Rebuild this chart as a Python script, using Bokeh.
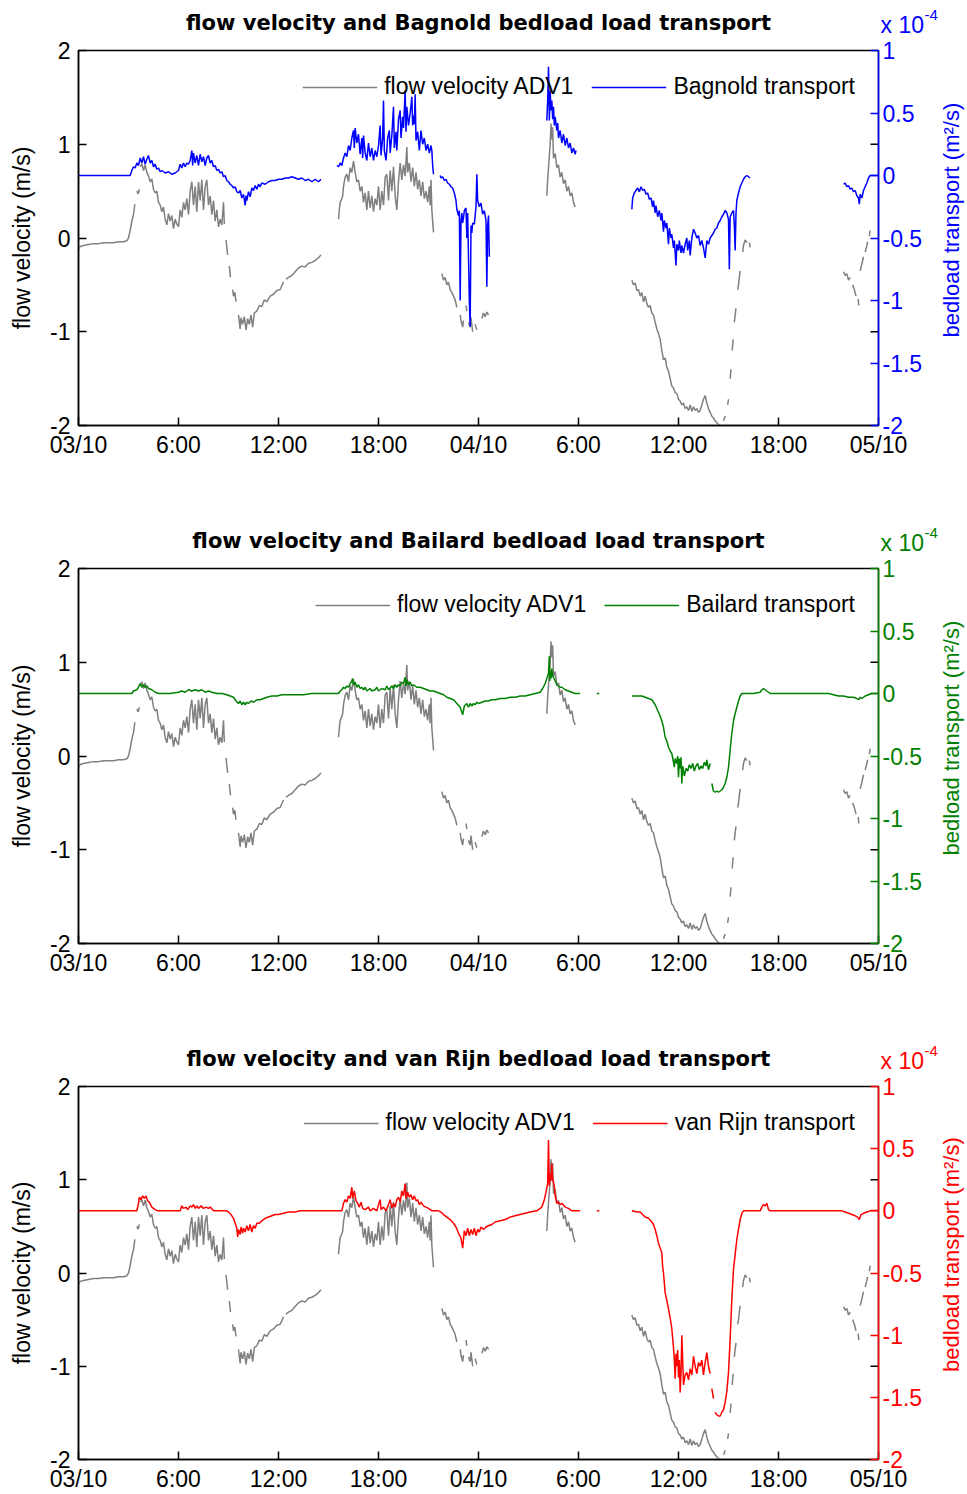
import math
import numpy as np
from bokeh.plotting import figure
from bokeh.models import Range1d, LinearAxis, Legend, LegendItem, FixedTicker, Label
from bokeh.layouts import column, row
from bokeh.embed import file_html
from bokeh.resources import INLINE

# time axis: hours since 03/10 00:00
x_ticks = [0, 6, 12, 18, 24, 30, 36, 42, 48]
x_labels = ["03/10", "6:00", "12:00", "18:00", "04/10", "6:00", "12:00", "18:00", "05/10"]
vel_ticks = [-2, -1, 0, 1, 2]
vel_labels = ["-2", "-1", "0", "1", "2"]
tr_ticks = [-2.0, -1.5, -1.0, -0.5, 0.0, 0.5, 1.0]
tr_labels = ["-2", "-1.5", "-1", "-0.5", "0", "0.5", "1"]

# flow velocity ADV1 (m/s); None = no data
velocity_adv1 = [
 (0.0,-0.12),(0.1,-0.09),(0.3,-0.08),(0.6,-0.07),(0.9,-0.06),(1.2,-0.06),(1.5,-0.05),(1.8,-0.05),
 (2.1,-0.05),(2.4,-0.04),(2.7,-0.04),(2.9,-0.03),(3.0,0.0),(3.1,0.08),(3.2,0.18),(3.3,0.25),(3.38,0.36),(3.44,None),
 (3.5,0.5),(3.58,0.47),(3.65,0.52),(3.68,None),
 (3.72,0.76),(3.8,0.79),(3.9,0.72),(4.0,0.78),(4.1,0.7),(4.2,0.66),(4.3,0.6),(4.4,0.63),(4.5,0.52),(4.6,0.48),
 (4.7,0.5),(4.8,0.38),(4.9,0.35),(5.0,0.28),(5.1,0.33),(5.2,0.2),(5.3,0.14),(5.4,0.26),(5.5,0.18),(5.6,0.24),
 (5.7,0.1),(5.8,0.2),(5.9,0.15),(6.0,0.12),(6.1,0.3),(6.2,0.22),(6.3,0.38),(6.4,0.3),(6.5,0.42),(6.6,0.25),
 (6.7,0.5),(6.8,0.6),(6.9,0.35),(7.0,0.55),(7.1,0.28),(7.2,0.6),(7.3,0.4),(7.4,0.62),(7.5,0.3),(7.6,0.55),
 (7.7,0.62),(7.8,0.35),(7.9,0.45),(8.0,0.25),(8.1,0.4),(8.2,0.18),(8.3,0.3),(8.4,0.12),(8.5,0.2),(8.6,0.14),
 (8.7,0.38),(8.75,0.15),(8.8,None),
 (8.85,-0.02),(8.95,-0.18),(9.0,None),(9.05,-0.3),(9.12,-0.42),(9.18,None),(9.25,-0.55),(9.3,-0.62),(9.38,-0.58),
 (9.45,-0.68),(9.52,None),(9.6,-0.82),(9.7,-0.97),(9.75,-0.85),(9.85,-0.92),(9.95,-0.84),(10.05,-0.98),
 (10.15,-0.86),(10.25,-0.92),(10.35,-0.82),(10.45,-0.95),(10.55,-0.8),(10.7,-0.78),(10.85,-0.72),(11.0,-0.73),
 (11.15,-0.66),(11.3,-0.68),(11.5,-0.62),(11.7,-0.6),(11.9,-0.56),(12.1,-0.55),(12.3,-0.47),(12.38,None),
 (12.45,-0.44),(12.6,-0.42),(12.8,-0.4),(13.0,-0.36),(13.2,-0.32),(13.4,-0.3),(13.6,-0.31),(13.8,-0.27),
 (14.0,-0.26),(14.2,-0.24),(14.4,-0.21),(14.55,-0.18),(14.6,None),
 (15.6,0.2),(15.65,0.3),(15.7,0.38),(15.8,0.42),(15.85,0.45),(15.9,0.55),(16.0,0.65),(16.1,0.68),(16.2,0.6),
 (16.3,0.75),(16.4,0.7),(16.5,0.82),(16.6,0.7),(16.7,0.6),(16.8,0.62),(16.9,0.5),(17.0,0.55),(17.1,0.38),
 (17.2,0.48),(17.3,0.3),(17.4,0.5),(17.5,0.32),(17.6,0.45),(17.7,0.28),(17.8,0.42),(17.9,0.35),(18.0,0.55),
 (18.1,0.3),(18.2,0.5),(18.3,0.35),(18.4,0.65),(18.5,0.68),(18.6,0.4),(18.7,0.72),(18.8,0.5),(18.9,0.76),
 (19.0,0.45),(19.1,0.3),(19.2,0.6),(19.3,0.8),(19.4,0.62),(19.5,0.78),(19.6,0.66),(19.7,0.97),(19.75,0.7),
 (19.85,0.8),(19.95,0.6),(20.05,0.75),(20.15,0.55),(20.25,0.7),(20.35,0.52),(20.45,0.62),(20.55,0.45),
 (20.65,0.6),(20.75,0.42),(20.85,0.5),(20.95,0.38),(21.05,0.55),(21.1,0.35),(21.15,0.62),(21.2,0.3),
 (21.25,0.18),(21.3,0.06),(21.35,None),
 (21.8,-0.38),(21.9,-0.45),(22.0,-0.42),(22.1,-0.5),(22.2,-0.47),(22.3,-0.55),(22.4,-0.58),(22.5,-0.62),
 (22.6,-0.66),(22.7,-0.74),(22.8,None),(22.9,-0.82),(22.95,-0.88),(23.05,-0.95),(23.1,-0.88),(23.18,None),
 (23.25,-0.72),(23.3,-0.78),(23.35,None),(23.4,-0.9),(23.5,-0.95),(23.55,-0.85),(23.65,-1.0),(23.72,None),
 (23.8,-0.92),(23.9,-0.98),(24.0,None),(24.2,-0.86),(24.3,-0.8),(24.4,-0.84),(24.5,-0.79),(24.6,-0.82),(24.65,None),
 (28.1,0.45),(28.15,0.62),(28.2,0.75),(28.3,1.0),(28.35,1.22),(28.4,1.05),(28.45,1.18),(28.5,0.85),(28.6,0.9),
 (28.7,0.75),(28.8,0.78),(28.9,0.65),(29.0,0.7),(29.1,0.58),(29.2,0.62),(29.3,0.5),(29.4,0.55),(29.5,0.45),
 (29.6,0.48),(29.7,0.38),(29.8,0.33),(29.85,None),
 (33.2,-0.45),(33.3,-0.5),(33.4,-0.48),(33.5,-0.56),(33.6,-0.55),(33.7,-0.62),(33.8,-0.58),(33.9,-0.68),
 (34.0,-0.62),(34.1,-0.7),(34.2,-0.74),(34.3,-0.72),(34.4,-0.8),(34.5,-0.82),(34.6,-0.9),(34.7,-0.97),
 (34.8,-1.02),(34.9,-1.08),(35.0,-1.2),(35.1,-1.3),(35.2,-1.28),(35.3,-1.38),(35.4,-1.42),(35.5,-1.5),
 (35.6,-1.58),(35.7,-1.6),(35.8,-1.65),(35.9,-1.66),(36.0,-1.72),(36.1,-1.74),(36.2,-1.78),(36.3,-1.76),
 (36.4,-1.82),(36.5,-1.8),(36.6,-1.84),(36.7,-1.78),(36.8,-1.85),(36.9,-1.8),(37.0,-1.84),(37.1,-1.82),
 (37.2,-1.86),(37.3,-1.84),(37.4,-1.78),(37.5,-1.72),(37.6,-1.68),(37.7,-1.76),(37.8,-1.82),(37.9,-1.86),
 (38.0,-1.9),(38.1,-1.92),(38.2,-1.95),(38.3,-1.97),(38.4,-1.99),(38.5,-2.0),(38.6,None),
 (38.7,-1.95),(38.8,-1.9),(38.88,None),(38.95,-1.78),(39.0,-1.72),(39.05,None),(39.1,-1.5),(39.15,-1.4),
 (39.18,None),(39.22,-1.2),(39.28,-1.08),(39.31,None),(39.35,-0.9),(39.4,-0.82),(39.45,-0.75),(39.5,None),
 (39.55,-0.55),(39.6,-0.5),(39.65,-0.42),(39.7,-0.35),(39.78,None),(39.85,-0.15),(39.9,-0.08),(39.95,-0.05),
 (40.0,-0.02),(40.1,-0.05),(40.18,None),(40.25,-0.05),(40.3,-0.1),(40.35,None),
 (45.9,-0.36),(46.0,-0.4),(46.1,-0.38),(46.2,-0.45),(46.3,-0.42),(46.38,None),(46.45,-0.5),(46.55,-0.55),
 (46.65,-0.62),(46.72,None),(46.78,-0.65),(46.82,-0.72),(46.86,None),(46.9,-0.35),(47.0,-0.28),(47.1,-0.2),
 (47.15,None),(47.2,-0.15),(47.3,-0.08),(47.35,-0.04),(47.4,None),(47.45,0.02),(47.5,0.08),
]

# bedload transport, in units of 1e-4 m^2/s
bagnold_e4 = [
 (0.0,0.0),(3.1,0.0),(3.2,0.04),(3.3,0.07),(3.4,0.06),(3.5,0.1),(3.6,0.08),(3.7,0.14),(3.8,0.1),(3.9,0.15),
 (4.0,0.09),(4.1,0.13),(4.2,0.16),(4.3,0.1),(4.4,0.12),(4.5,0.07),(4.6,0.09),(4.7,0.05),(4.8,0.06),(4.9,0.03),
 (5.0,0.04),(5.2,0.02),(5.4,0.03),(5.6,0.01),(5.8,0.02),(6.0,0.04),(6.1,0.09),(6.2,0.06),(6.3,0.1),(6.4,0.07),
 (6.5,0.1),(6.6,0.09),(6.7,0.12),(6.8,0.2),(6.85,0.08),(6.9,0.18),(7.0,0.1),(7.1,0.16),(7.2,0.08),(7.3,0.17),
 (7.4,0.11),(7.5,0.15),(7.6,0.08),(7.7,0.14),(7.8,0.16),(7.9,0.1),(8.0,0.12),(8.1,0.07),(8.2,0.08),(8.3,0.04),
 (8.4,0.05),(8.5,0.02),(8.6,0.03),(8.7,-0.01),(8.8,0.0),(8.9,-0.04),(9.0,-0.05),(9.1,-0.07),(9.2,-0.08),
 (9.3,-0.1),(9.4,-0.09),(9.5,-0.13),(9.6,-0.14),(9.7,-0.12),(9.8,-0.18),(9.9,-0.15),(10.0,-0.24),(10.05,-0.16),
 (10.1,-0.2),(10.2,-0.13),(10.3,-0.17),(10.4,-0.1),(10.5,-0.12),(10.6,-0.08),(10.7,-0.11),(10.8,-0.07),
 (10.9,-0.09),(11.0,-0.06),(11.2,-0.07),(11.4,-0.05),(11.6,-0.04),(11.8,-0.04),(12.0,-0.03),(12.2,-0.03),
 (12.4,-0.02),(12.6,-0.02),(12.8,-0.01),(13.0,-0.02),(13.2,-0.03),(13.4,-0.02),(13.6,-0.04),(13.8,-0.03),
 (14.0,-0.05),(14.2,-0.03),(14.4,-0.05),(14.55,-0.03),(14.6,None),
 (15.5,0.08),(15.6,0.07),(15.7,0.1),(15.8,0.08),(15.9,0.14),(16.0,0.18),(16.1,0.15),(16.2,0.24),(16.3,0.2),
 (16.4,0.3),(16.5,0.36),(16.55,0.22),(16.6,0.38),(16.7,0.26),(16.8,0.33),(16.9,0.17),(17.0,0.3),(17.05,0.14),
 (17.1,0.32),(17.2,0.18),(17.3,0.12),(17.4,0.26),(17.5,0.15),(17.6,0.22),(17.7,0.12),(17.8,0.2),(17.9,0.15),
 (18.0,0.24),(18.1,0.4),(18.15,0.16),(18.25,0.3),(18.3,0.6),(18.35,0.2),(18.45,0.12),(18.55,0.3),(18.65,0.36),
 (18.7,0.18),(18.8,0.32),(18.9,0.55),(18.95,0.22),(19.05,0.35),(19.1,0.2),(19.2,0.45),(19.3,0.52),(19.35,0.3),
 (19.45,0.47),(19.5,0.38),(19.6,0.68),(19.65,0.35),(19.7,0.55),(19.8,0.4),(19.9,0.5),(20.0,0.63),(20.05,0.4),
 (20.1,0.48),(20.15,0.41),(20.2,0.65),(20.25,0.28),(20.35,0.35),(20.45,0.2),(20.55,0.36),(20.65,0.25),
 (20.75,0.3),(20.85,0.2),(20.95,0.25),(21.05,0.18),(21.15,0.24),(21.2,0.2),(21.25,0.08),(21.3,0.01),(21.35,None),
 (21.7,0.0),(21.75,-0.02),(21.85,-0.01),(21.95,-0.04),(22.05,-0.03),(22.15,-0.06),(22.25,-0.07),(22.35,-0.09),
 (22.45,-0.1),(22.55,-0.14),(22.65,-0.2),(22.7,-0.27),(22.8,-0.32),(22.85,-0.28),(22.9,-1.0),(22.95,-0.36),
 (23.0,-0.3),(23.05,-0.38),(23.1,-0.34),(23.15,-0.28),(23.25,-0.26),(23.3,-0.5),(23.35,-0.3),(23.45,-1.0),
 (23.5,-1.21),(23.55,-0.4),(23.6,-0.46),(23.65,-0.38),(23.75,-0.39),(23.85,-0.25),(23.9,0.01),(23.95,-0.2),
 (24.05,-0.25),(24.15,-0.22),(24.25,-0.31),(24.35,-0.28),(24.45,-0.36),(24.5,-0.89),(24.55,-0.4),(24.6,-0.32),
 (24.65,-0.65),(24.7,None),
 (28.1,0.44),(28.15,0.6),(28.2,0.87),(28.25,0.44),(28.3,0.68),(28.35,0.52),(28.4,0.6),(28.45,0.45),(28.5,0.55),
 (28.55,0.4),(28.6,0.47),(28.7,0.36),(28.75,0.42),(28.8,0.3),(28.9,0.36),(29.0,0.26),(29.1,0.33),(29.2,0.24),
 (29.3,0.3),(29.4,0.22),(29.5,0.26),(29.6,0.18),(29.7,0.22),(29.8,0.17),(29.85,0.2),(29.9,None),
 (33.2,-0.27),(33.25,-0.18),(33.35,-0.14),(33.45,-0.12),(33.55,-0.1),(33.65,-0.13),(33.75,-0.09),(33.85,-0.12),
 (33.95,-0.11),(34.05,-0.15),(34.15,-0.14),(34.25,-0.19),(34.35,-0.18),(34.45,-0.25),(34.5,-0.2),(34.6,-0.3),
 (34.65,-0.24),(34.75,-0.33),(34.85,-0.28),(34.95,-0.36),(35.0,-0.3),(35.1,-0.45),(35.15,-0.36),(35.25,-0.42),
 (35.3,-0.38),(35.4,-0.55),(35.45,-0.42),(35.55,-0.5),(35.6,-0.47),(35.7,-0.58),(35.75,-0.52),(35.85,-0.72),
 (35.9,-0.55),(36.0,-0.6),(36.05,-0.52),(36.15,-0.62),(36.2,-0.56),(36.3,-0.62),(36.4,-0.55),(36.5,-0.5),
 (36.55,-0.6),(36.65,-0.52),(36.7,-0.64),(36.8,-0.5),(36.9,-0.43),(37.0,-0.46),(37.1,-0.5),(37.2,-0.48),
 (37.3,-0.56),(37.4,-0.52),(37.5,-0.58),(37.6,-0.66),(37.7,-0.52),(37.8,-0.55),(37.9,-0.5),(38.0,-0.48),
 (38.1,-0.46),(38.2,-0.43),(38.3,-0.42),(38.4,-0.38),(38.5,-0.36),(38.6,-0.33),(38.7,-0.31),(38.8,-0.28),
 (38.9,-0.3),(39.0,-0.35),(39.05,-0.75),(39.1,-0.33),(39.2,-0.3),(39.3,-0.28),(39.35,-0.4),(39.4,-0.6),
 (39.45,-0.3),(39.5,-0.2),(39.6,-0.14),(39.7,-0.09),(39.8,-0.06),(39.9,-0.03),(40.0,-0.01),(40.1,0.0),
 (40.2,-0.01),(40.3,-0.02),(40.35,None),
 (45.9,-0.07),(46.0,-0.06),(46.1,-0.09),(46.2,-0.08),(46.3,-0.11),(46.4,-0.1),(46.5,-0.13),(46.6,-0.12),
 (46.7,-0.16),(46.8,-0.18),(46.85,-0.23),(46.9,-0.15),(47.0,-0.18),(47.1,-0.12),(47.2,-0.09),(47.3,-0.06),
 (47.4,-0.02),(47.5,0.0),(48.0,0.0),
]

bailard_e4 = [
 (0.0,0.0),(3.2,0.0),(3.3,0.02),(3.5,0.03),(3.6,0.05),(3.7,0.08),(3.8,0.05),(3.9,0.07),(4.0,0.05),(4.1,0.06),
 (4.2,0.04),(4.4,0.03),(4.6,0.01),(4.8,0.0),(5.5,0.0),(6.0,0.01),(6.2,0.02),(6.4,0.01),(6.6,0.03),(6.8,0.02),
 (7.0,0.03),(7.2,0.02),(7.4,0.03),(7.6,0.01),(7.8,0.02),(8.0,0.01),(8.3,0.0),(8.6,0.0),(8.9,-0.01),(9.1,-0.02),
 (9.3,-0.03),(9.45,-0.06),(9.6,-0.08),(9.7,-0.06),(9.8,-0.09),(9.9,-0.07),(10.0,-0.09),(10.1,-0.07),(10.2,-0.08),
 (10.35,-0.06),(10.5,-0.07),(10.7,-0.05),(10.9,-0.05),(11.1,-0.04),(11.3,-0.03),(11.6,-0.02),(11.9,-0.02),
 (12.2,-0.01),(12.6,-0.01),(13.0,-0.01),(13.5,-0.01),(14.0,0.0),(15.6,0.0),(15.7,0.02),(15.8,0.03),(15.9,0.05),
 (16.0,0.04),(16.1,0.06),(16.2,0.05),(16.3,0.08),(16.4,0.1),(16.45,0.12),(16.5,0.07),(16.6,0.09),(16.7,0.05),
 (16.8,0.07),(16.9,0.04),(17.0,0.05),(17.1,0.03),(17.2,0.05),(17.3,0.02),(17.5,0.04),(17.6,0.02),(17.8,0.03),
 (17.9,0.05),(18.0,0.02),(18.2,0.04),(18.4,0.03),(18.5,0.06),(18.6,0.03),(18.8,0.06),(18.9,0.04),(19.0,0.07),
 (19.1,0.05),(19.2,0.07),(19.3,0.06),(19.4,0.09),(19.5,0.08),(19.6,0.13),(19.65,0.06),(19.7,0.11),(19.8,0.07),
 (19.9,0.09),(20.0,0.06),(20.1,0.07),(20.3,0.05),(20.5,0.05),(20.7,0.04),(20.9,0.03),(21.1,0.02),(21.3,0.02),
 (21.5,0.01),(21.7,0.0),(21.9,-0.01),(22.1,-0.03),(22.3,-0.04),(22.5,-0.05),(22.7,-0.08),(22.9,-0.11),
 (23.05,-0.17),(23.15,-0.1),(23.3,-0.08),(23.4,-0.11),(23.5,-0.08),(23.6,-0.1),(23.7,-0.08),(23.8,-0.09),
 (23.9,-0.07),(24.0,-0.08),(24.2,-0.07),(24.4,-0.06),(24.6,-0.06),(24.8,-0.05),(25.0,-0.05),(25.3,-0.04),
 (25.6,-0.04),(25.9,-0.03),(26.2,-0.03),(26.5,-0.02),(26.8,-0.02),(27.1,-0.01),(27.4,0.0),(27.7,0.01),
 (27.85,0.04),(28.0,0.08),(28.1,0.12),(28.2,0.16),(28.25,0.3),(28.28,0.1),(28.3,0.18),(28.35,0.12),(28.4,0.2),
 (28.45,0.14),(28.5,0.13),(28.6,0.1),(28.7,0.07),(28.8,0.06),(28.9,0.05),(29.0,0.05),(29.2,0.03),(29.4,0.02),
 (29.6,0.01),(29.8,0.0),(30.1,0.0),(30.15,None),(31.1,0.0),(31.25,0.0),(31.3,None),
 (33.2,-0.02),(33.5,-0.02),(33.8,-0.02),(34.0,-0.03),(34.2,-0.04),(34.4,-0.05),(34.5,-0.07),(34.6,-0.09),
 (34.7,-0.12),(34.8,-0.15),(34.9,-0.18),(35.0,-0.22),(35.1,-0.27),(35.2,-0.35),(35.3,-0.38),(35.4,-0.43),
 (35.5,-0.46),(35.6,-0.48),(35.7,-0.55),(35.75,-0.59),(35.8,-0.52),(35.9,-0.56),(35.95,-0.5),(36.0,-0.67),
 (36.05,-0.52),(36.1,-0.6),(36.15,-0.51),(36.2,-0.72),(36.25,-0.58),(36.35,-0.66),(36.45,-0.6),(36.55,-0.62),
 (36.65,-0.57),(36.75,-0.6),(36.85,-0.56),(36.95,-0.62),(37.05,-0.58),(37.15,-0.56),(37.25,-0.61),(37.35,-0.58),
 (37.45,-0.6),(37.55,-0.55),(37.65,-0.58),(37.7,-0.53),(37.8,-0.61),(37.9,-0.56),(37.95,None),(38.0,-0.72),
 (38.1,-0.78),(38.2,-0.79),(38.3,-0.78),(38.4,-0.79),(38.5,-0.78),(38.6,-0.77),(38.7,-0.75),(38.8,-0.72),
 (38.9,-0.67),(39.0,-0.59),(39.1,-0.45),(39.2,-0.32),(39.3,-0.22),(39.4,-0.16),(39.5,-0.11),(39.6,-0.06),
 (39.7,-0.02),(39.8,0.0),(40.5,0.0),(40.9,0.01),(41.0,0.03),(41.1,0.04),(41.2,0.03),(41.3,0.02),(41.5,0.0),
 (45.0,0.0),(45.3,-0.01),(45.6,-0.02),(45.9,-0.02),(46.2,-0.03),(46.5,-0.03),(46.7,-0.04),(46.8,-0.05),
 (46.9,-0.03),(47.0,-0.04),(47.2,-0.02),(47.4,-0.01),(47.6,0.0),(48.0,0.0),
]

vanrijn_e4 = [
 (0.0,0.0),(3.5,0.0),(3.6,0.06),(3.65,0.11),(3.75,0.09),(3.85,0.12),(3.95,0.1),(4.05,0.12),(4.15,0.08),
 (4.25,0.07),(4.4,0.03),(4.6,0.01),(4.75,0.0),(6.1,0.0),(6.2,0.04),(6.3,0.02),(6.45,0.03),(6.55,0.01),(6.7,0.04),
 (6.8,0.03),(6.9,0.05),(7.0,0.02),(7.1,0.04),(7.2,0.02),(7.35,0.04),(7.5,0.02),(7.65,0.03),(7.8,0.02),(7.9,0.03),
 (8.1,0.0),(8.9,0.0),(9.0,-0.01),(9.15,-0.03),(9.3,-0.06),(9.4,-0.1),(9.5,-0.14),(9.55,-0.21),(9.6,-0.15),
 (9.7,-0.19),(9.75,-0.13),(9.85,-0.18),(9.9,-0.14),(10.0,-0.17),(10.1,-0.12),(10.2,-0.16),(10.3,-0.11),
 (10.4,-0.17),(10.5,-0.12),(10.6,-0.14),(10.7,-0.1),(10.85,-0.1),(11.0,-0.08),(11.2,-0.06),(11.4,-0.05),
 (11.6,-0.04),(11.8,-0.03),(12.0,-0.03),(12.3,-0.02),(12.6,-0.01),(13.0,-0.01),(13.3,0.0),(15.8,0.0),(15.9,0.06),
 (16.0,0.09),(16.1,0.07),(16.2,0.12),(16.3,0.1),(16.4,0.19),(16.45,0.1),(16.55,0.16),(16.65,0.08),(16.75,0.06),
 (16.85,0.03),(16.95,0.07),(17.05,0.02),(17.2,0.01),(17.4,0.03),(17.5,0.0),(17.7,0.02),(17.9,0.0),(18.0,0.05),
 (18.1,0.09),(18.15,0.01),(18.3,0.03),(18.45,0.0),(18.6,0.05),(18.7,0.09),(18.8,0.02),(18.9,0.06),(19.0,0.03),
 (19.1,0.09),(19.2,0.11),(19.3,0.07),(19.4,0.16),(19.5,0.12),(19.6,0.22),(19.65,0.1),(19.75,0.15),(19.85,0.11),
 (19.95,0.13),(20.05,0.09),(20.15,0.12),(20.25,0.08),(20.35,0.09),(20.45,0.05),(20.55,0.07),(20.7,0.04),
 (20.85,0.03),(21.0,0.02),(21.2,0.0),(21.6,0.0),(21.75,-0.01),(21.9,-0.03),(22.1,-0.05),(22.3,-0.07),(22.5,-0.1),
 (22.65,-0.13),(22.8,-0.18),(22.95,-0.22),(23.05,-0.3),(23.15,-0.16),(23.25,-0.2),(23.35,-0.14),(23.45,-0.2),
 (23.55,-0.15),(23.65,-0.19),(23.75,-0.14),(23.85,-0.2),(23.95,-0.15),(24.05,-0.17),(24.15,-0.13),(24.3,-0.15),
 (24.45,-0.13),(24.6,-0.12),(24.8,-0.11),(25.0,-0.09),(25.3,-0.08),(25.6,-0.07),(25.9,-0.05),(26.2,-0.04),
 (26.5,-0.03),(26.8,-0.02),(27.1,-0.01),(27.5,0.0),(27.8,0.03),(27.95,0.09),(28.05,0.15),(28.15,0.22),(28.2,0.57),
 (28.25,0.2),(28.3,0.3),(28.35,0.24),(28.4,0.38),(28.45,0.26),(28.55,0.2),(28.6,0.12),(28.7,0.06),(28.8,0.07),
 (28.9,0.05),(29.0,0.06),(29.2,0.03),(29.4,0.02),(29.6,0.0),(30.1,0.0),(30.15,None),(31.1,0.0),(31.25,0.0),(31.3,None),
 (33.2,0.0),(33.5,-0.01),(33.7,-0.01),(33.85,-0.03),(34.0,-0.05),(34.2,-0.06),(34.4,-0.09),(34.5,-0.11),
 (34.6,-0.15),(34.7,-0.2),(34.8,-0.26),(34.9,-0.3),(35.0,-0.34),(35.05,-0.45),(35.1,-0.5),(35.2,-0.66),
 (35.3,-0.72),(35.4,-0.79),(35.5,-0.86),(35.6,-0.95),(35.7,-1.1),(35.75,-1.2),(35.8,-1.35),(35.85,-1.15),
 (35.9,-1.25),(35.95,-1.12),(36.0,-1.34),(36.05,-1.2),(36.1,-1.46),(36.15,-1.3),(36.2,-1.0),(36.25,-1.2),
 (36.3,-1.4),(36.4,-1.32),(36.5,-1.3),(36.6,-1.36),(36.7,-1.27),(36.8,-1.32),(36.9,-1.17),(37.0,-1.25),
 (37.1,-1.31),(37.2,-1.22),(37.3,-1.25),(37.4,-1.2),(37.5,-1.32),(37.6,-1.22),(37.7,-1.14),(37.8,-1.25),
 (37.9,-1.31),(37.95,None),(38.0,-1.43),(38.1,-1.51),(38.15,None),(38.2,-1.62),(38.3,-1.64),(38.4,-1.65),
 (38.5,-1.65),(38.6,-1.62),(38.7,-1.6),(38.8,-1.54),(38.9,-1.45),(39.0,-1.3),(39.1,-1.03),(39.2,-0.71),
 (39.3,-0.47),(39.4,-0.35),(39.5,-0.23),(39.6,-0.15),(39.7,-0.07),(39.8,-0.02),(39.9,0.0),(40.9,0.0),(41.0,0.03),
 (41.1,0.05),(41.2,0.04),(41.3,0.06),(41.4,0.01),(41.5,0.0),(45.8,0.0),(46.0,-0.01),(46.2,-0.02),(46.4,-0.03),
 (46.6,-0.04),(46.75,-0.05),(46.85,-0.07),(46.95,-0.03),(47.1,-0.02),(47.3,-0.01),(47.5,0.0),(48.0,0.0),
]

TICK_FONT = "Liberation Sans"
FS = "23px"
TOTAL_W = 967
BORDER_L = 78
FRAME_W = 800
FRAME_H = 375
BORDER_T = 12
HEADER_H = 38
SIDE_W = 37
PX_PER_HOUR = FRAME_W / 48.0
TICK_LEN = 8
SIDE_LABEL_START = 287  # px below the frame top where the rotated right label begins


def split(pts):
    xs = [p[0] for p in pts]
    ys = [np.nan if p[1] is None else p[1] for p in pts]
    return xs, ys


def header(method, color):
    h = figure(width=TOTAL_W, height=HEADER_H, x_range=Range1d(0, TOTAL_W), y_range=Range1d(0, HEADER_H),
               output_backend="svg", toolbar_location=None, min_border=0,
               x_axis_type=None, y_axis_type=None,
               background_fill_color="white", border_fill_color="white")
    h.outline_line_color = None
    h.grid.visible = False
    h.add_layout(Label(x=BORDER_L + FRAME_W / 2, y=HEADER_H - 22,
                       text="flow velocity and " + method + " bedload load transport",
                       text_align="center", text_baseline="middle",
                       text_font="DejaVu Sans", text_font_style="bold", text_font_size="21px",
                       text_color="black"))
    h.add_layout(Label(x=BORDER_L + FRAME_W + 2, y=0.5, text="x 10",
                       text_align="left", text_baseline="bottom",
                       text_font=TICK_FONT, text_font_size=FS, text_color=color))
    h.add_layout(Label(x=BORDER_L + FRAME_W + 46, y=HEADER_H - 14, text="-4",
                       text_align="left", text_baseline="middle",
                       text_font=TICK_FONT, text_font_size="15px", text_color=color))
    return h


def side(color, height, border_bottom):
    # same vertical borders and range as the plot, so its frame lines up with the plot frame
    s = figure(width=SIDE_W, height=height, x_range=Range1d(0, SIDE_W), y_range=Range1d(-2, 2),
               output_backend="svg", toolbar_location=None,
               min_border_left=0, min_border_right=0,
               min_border_top=BORDER_T, min_border_bottom=border_bottom,
               x_axis_type=None, y_axis_type=None,
               background_fill_color="white", border_fill_color="white")
    s.outline_line_color = None
    s.grid.visible = False
    y_start = 2 - 4.0 * SIDE_LABEL_START / FRAME_H
    s.add_layout(Label(x=21, y=y_start,
                       text="bedload transport (m\u00b2/s)", angle=math.pi / 2,
                       text_align="left", text_baseline="middle",
                       text_font=TICK_FONT, text_font_size="22px", text_color=color))
    return s


def make_panel(method, pts, color, border_bottom):
    height = BORDER_T + FRAME_H + border_bottom
    p = figure(width=TOTAL_W - SIDE_W, height=height, x_range=Range1d(0, 48), y_range=Range1d(-2, 2),
               output_backend="svg", toolbar_location=None,
               min_border_left=BORDER_L, min_border_right=TOTAL_W - SIDE_W - BORDER_L - FRAME_W,
               min_border_top=BORDER_T, min_border_bottom=border_bottom,
               background_fill_color="white", border_fill_color="white")
    p.extra_y_ranges = {"tr": Range1d(-2, 1)}
    p.xgrid.visible = False
    p.ygrid.visible = False
    p.outline_line_color = "black"
    p.outline_line_width = 1.5

    xa = p.xaxis[0]
    xa.ticker = FixedTicker(ticks=x_ticks)
    xa.major_label_overrides = {t: l for t, l in zip(x_ticks, x_labels)}
    ya = p.yaxis[0]
    ya.ticker = FixedTicker(ticks=vel_ticks)
    ya.major_label_overrides = {t: l for t, l in zip(vel_ticks, vel_labels)}
    ya.axis_label = "flow velocity (m/s)"
    ra = LinearAxis(y_range_name="tr", ticker=FixedTicker(ticks=tr_ticks),
                    major_label_overrides={t: l for t, l in zip(tr_ticks, tr_labels)})
    p.add_layout(ra, "right")

    for ax, c in ((xa, "black"), (ya, "black"), (ra, color)):
        ax.axis_line_color = c
        ax.axis_line_width = 1.5
        ax.major_tick_line_color = c
        ax.major_tick_line_width = 1.5
        ax.major_tick_in = TICK_LEN
        ax.major_tick_out = 0
        ax.minor_tick_line_color = None
        ax.major_label_text_font = TICK_FONT
        ax.major_label_text_font_size = FS
        ax.major_label_text_color = c
        ax.axis_label_text_font = TICK_FONT
        ax.axis_label_text_font_size = FS
        ax.axis_label_text_font_style = "normal"
        ax.axis_label_text_color = c
    xa.major_label_standoff = 6
    ya.major_label_standoff = 8
    ya.axis_label_standoff = 12
    ra.major_label_standoff = 4

    # box-style ticks of the left axis mirrored on the right edge
    mirror = [t for t in vel_ticks if (-2 + (t + 2) * 3 / 4.0) not in tr_ticks]
    p.segment(x0=[48] * len(mirror), y0=mirror,
              x1=[48 - TICK_LEN / PX_PER_HOUR] * len(mirror), y1=mirror,
              line_color="black", line_width=1.5)

    vx, vy = split(velocity_adv1)
    r_vel = p.line(vx, vy, line_color="#808080", line_width=1.5)
    tx, ty = split(pts)
    r_tr = p.line(tx, ty, line_color=color, line_width=1.5, y_range_name="tr")

    legend = Legend(items=[LegendItem(label="flow velocity ADV1", renderers=[r_vel]),
                           LegendItem(label=method + " transport", renderers=[r_tr])],
                    orientation="horizontal", location="top_right",
                    border_line_color=None, background_fill_alpha=0,
                    glyph_width=75, glyph_height=20, label_standoff=7, spacing=18,
                    padding=0, margin=23,
                    label_text_font=TICK_FONT, label_text_font_size=FS,
                    label_text_color="black")
    p.add_layout(legend)
    return column(header(method, color),
                  row(p, side(color, height, border_bottom), spacing=0), spacing=0)


blocks = [
    make_panel("Bagnold", bagnold_e4, "#0000ff", 93),
    make_panel("Bailard", bailard_e4, "#008000", 93),
    make_panel("van Rijn", vanrijn_e4, "#ff0000", 33),
]

layout = column(*blocks, spacing=0)
open("out.html", "w").write(file_html(layout, INLINE))
